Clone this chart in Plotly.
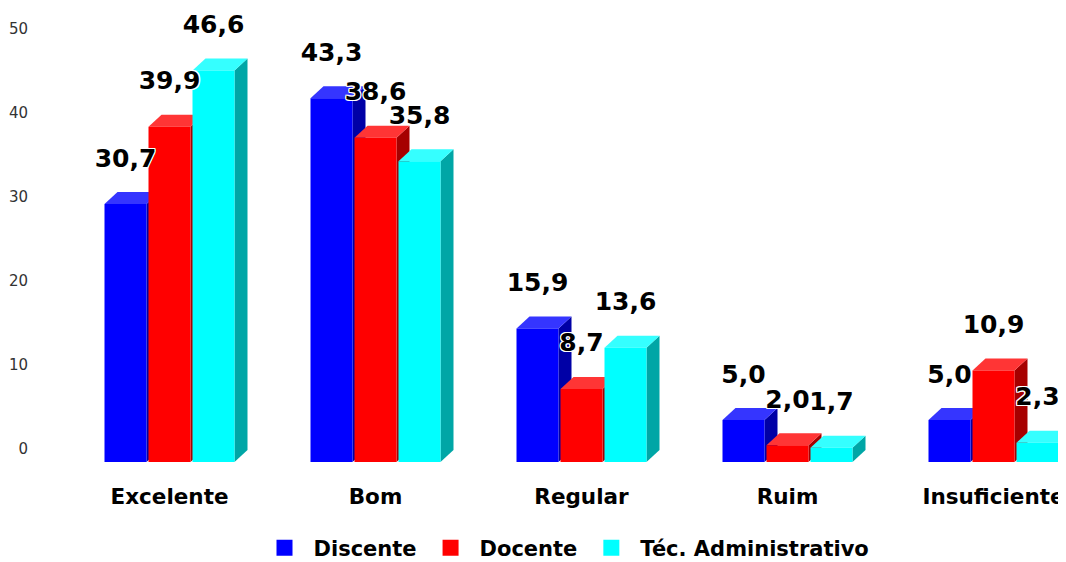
import plotly.graph_objects as go

categories = ["Excelente", "Bom", "Regular", "Ruim", "Insuficiente"]
series_names = ["Discente", "Docente", "Téc. Administrativo"]
discente = [30.7, 43.3, 15.9, 5.0, 5.0]
docente = [39.9, 38.6, 8.7, 2.0, 10.9]
tec_admin = [46.6, 35.8, 13.6, 1.7, 2.3]
y_ticks = [0, 10, 20, 30, 40, 50]

series_values = [discente, docente, tec_admin]
front_colors = ["#0000FF", "#FF0000", "#00FFFF"]
top_colors = ["#3535FF", "#FF3535", "#35FFFF"]
side_colors = ["#0000A6", "#A60000", "#00A6A6"]

# page body margin (8px) compensation: figure px = window px - 8
PAGE = 8
W, H = 1066 - PAGE, 562 - PAGE
ML = 29 - PAGE
MR = 0
MT = 20 - PAGE
plot_bottom_px = 481 - PAGE
zero_px = 462 - PAGE
first_center_px = 169.5 - PAGE
px_per_unit_y = 8.4
group_px = 206

x_unit = group_px
x_left = -(first_center_px - ML) / x_unit
x_right = (W - MR - first_center_px) / x_unit
y_top = (zero_px - MT) / px_per_unit_y
y_bot = -(plot_bottom_px - zero_px) / px_per_unit_y
label_shift = 13 / px_per_unit_y

bar_w = 42 / x_unit
bar_step = 44 / x_unit
depth_x = 13 / x_unit
depth_y = 12 / px_per_unit_y
label_gap = 5.2

fig = go.Figure()

for i in range(len(categories)):
    for s, vals in enumerate(series_values):
        v = vals[i]
        xc = i + (s - 1) * bar_step
        x0, x1 = xc - bar_w / 2, xc + bar_w / 2
        fig.add_trace(go.Scatter(
            x=[x1, x1 + depth_x, x1 + depth_x, x1, x1],
            y=[0, depth_y, v + depth_y, v, 0],
            fill="toself", mode="lines", line=dict(width=0, color=side_colors[s]),
            fillcolor=side_colors[s], showlegend=False, hoverinfo="skip"))
        fig.add_trace(go.Scatter(
            x=[x0, x1, x1 + depth_x, x0 + depth_x, x0],
            y=[v, v, v + depth_y, v + depth_y, v],
            fill="toself", mode="lines", line=dict(width=0, color=top_colors[s]),
            fillcolor=top_colors[s], showlegend=False, hoverinfo="skip"))
        fig.add_trace(go.Scatter(
            x=[x0, x1, x1, x0, x0],
            y=[0, 0, v, v, 0],
            fill="toself", mode="lines", line=dict(width=0, color=front_colors[s]),
            fillcolor=front_colors[s], showlegend=False,
            hovertemplate=f"{categories[i]}<br>{series_names[s]}: {v}<extra></extra>"))

outline = ("1px 1px 0 #fff, -1px -1px 0 #fff, 1px -1px 0 #fff, -1px 1px 0 #fff, "
           "0 1px 0 #fff, 0 -1px 0 #fff, 1px 0 0 #fff, -1px 0 0 #fff")
for s, vals in enumerate(series_values):
    fig.add_trace(go.Scatter(
        x=[i + (s - 1) * bar_step for i in range(len(categories))],
        y=[v + label_gap for v in vals],
        text=[f"{v:.1f}".replace(".", ",") for v in vals],
        mode="text", textposition="middle center", cliponaxis=False,
        textfont=dict(family="DejaVu Sans", size=25, color="#000000",
                      weight="bold", shadow=outline),
        showlegend=False, hoverinfo="skip"))

for s, name in enumerate(series_names):
    fig.add_trace(go.Scatter(
        x=[None], y=[None], mode="markers", name=name,
        marker=dict(symbol="square", size=22, color=front_colors[s])))

fig.add_trace(go.Scatter(x=[None], y=[None], yaxis="y2", showlegend=False,
                         hoverinfo="skip"))

fig.update_layout(
    width=W, height=H,
    margin=dict(l=ML, r=MR, t=MT, b=H - plot_bottom_px, autoexpand=False),
    paper_bgcolor="white", plot_bgcolor="white",
    font=dict(family="DejaVu Sans", color="#000000"),
    xaxis=dict(range=[x_left, x_right], tickvals=list(range(len(categories))),
               ticktext=categories, showgrid=False, zeroline=False,
               showline=False, ticks="",
               tickfont=dict(family="DejaVu Sans", size=21.5, color="#000000",
                             weight="bold")),
    yaxis=dict(range=[y_bot, y_top], showgrid=False, zeroline=False,
               showticklabels=False, showline=False, ticks=""),
    yaxis2=dict(range=[y_bot - label_shift, y_top - label_shift],
                overlaying="y", side="left", tickvals=y_ticks,
                showgrid=False, zeroline=False, showline=False, ticks="",
                tickfont=dict(family="DejaVu Sans", size=15, color="#333333")),
    legend=dict(orientation="h", xref="container", yref="container",
                x=(565 - PAGE) / W, xanchor="center",
                y=(562 - 548) / H, yanchor="middle",
                itemwidth=48,
                font=dict(family="DejaVu Sans", size=21, color="#000000",
                          weight="bold"),
                itemsizing="trace"),
    showlegend=True,
)

fig.write_html("out.html")
